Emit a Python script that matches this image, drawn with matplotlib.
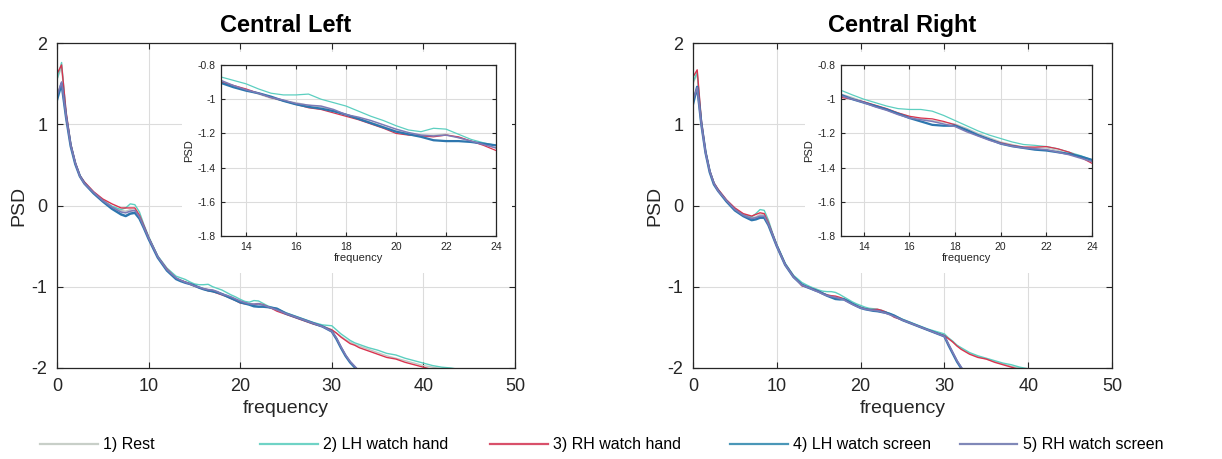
import numpy as np
import matplotlib
matplotlib.use('Agg')
import matplotlib.pyplot as plt
from matplotlib.patches import Rectangle
from matplotlib.lines import Line2D

plt.rcParams['font.family'] = ['Liberation Sans', 'DejaVu Sans']
plt.rcParams['axes.unicode_minus'] = False

# frequency grid shared by all curves (Hz)
freq = [0, 0.5, 1, 1.5, 2, 2.5, 3, 4, 5, 6, 7, 7.5, 8, 8.5, 9, 9.5, 10, 11, 12,
        13, 13.5, 14, 14.5, 15, 15.5, 16, 16.5, 17, 17.5, 18, 18.5, 19, 19.5,
        20, 20.5, 21, 21.5, 22, 22.5, 23, 23.5, 24,
        25, 26, 27, 28, 29, 30, 30.5, 31, 31.5, 32, 32.5, 33,
        34, 35, 36, 37, 38, 39, 40, 41, 42, 43, 44]

labels = ['1) Rest', '2) LH watch hand', '3) RH watch hand',
          '4) LH watch screen', '5) RH watch screen']

# ---- Central Left ----
left_rest = [1.55, 1.70, 1.10, 0.75, 0.52, 0.37, 0.28, 0.16, 0.07, -0.01, -0.06, -0.07, -0.05, -0.06, -0.14, -0.27, -0.40, -0.63, -0.79,
             -0.895, -0.92, -0.945, -0.97, -0.995, -1.01, -1.02, -1.035, -1.045, -1.065, -1.09, -1.11, -1.135, -1.16,
             -1.185, -1.20, -1.21, -1.21, -1.205, -1.225, -1.245, -1.265, -1.285,
             -1.33, -1.37, -1.41, -1.45, -1.48, -1.53, -1.57, -1.61, -1.65, -1.68, -1.71, -1.73,
             -1.77, -1.81, -1.85, -1.88, -1.91, -1.94, -1.97, -1.99, -2.01, -2.03, -2.05]
left_lh_hand = [1.55, 1.76, 1.12, 0.76, 0.52, 0.36, 0.28, 0.16, 0.06, -0.01, -0.05, -0.03, 0.02, 0.01, -0.08, -0.24, -0.38, -0.62, -0.77,
                -0.87, -0.89, -0.91, -0.94, -0.965, -0.975, -0.975, -0.97, -1.00, -1.02, -1.04, -1.07, -1.10, -1.125,
                -1.155, -1.18, -1.19, -1.17, -1.175, -1.205, -1.235, -1.255, -1.27,
                -1.32, -1.36, -1.40, -1.44, -1.47, -1.48, -1.53, -1.58, -1.62, -1.66, -1.69, -1.71,
                -1.75, -1.78, -1.82, -1.84, -1.88, -1.91, -1.94, -1.97, -1.99, -2.00, -2.02]
left_rh_hand = [1.62, 1.73, 1.15, 0.76, 0.53, 0.37, 0.29, 0.17, 0.08, 0.02, -0.03, -0.03, -0.03, -0.03, -0.12, -0.25, -0.39, -0.63, -0.78,
                -0.90, -0.92, -0.94, -0.965, -0.99, -1.01, -1.03, -1.05, -1.06, -1.08, -1.10, -1.12, -1.145, -1.17,
                -1.20, -1.21, -1.215, -1.22, -1.21, -1.22, -1.245, -1.27, -1.30,
                -1.34, -1.38, -1.42, -1.46, -1.49, -1.53, -1.57, -1.62, -1.66, -1.70, -1.72, -1.75,
                -1.79, -1.83, -1.87, -1.89, -1.93, -1.96, -1.99, -2.02, -2.04, -2.06, -2.08]
left_lh_screen = [1.30, 1.50, 1.08, 0.73, 0.51, 0.36, 0.27, 0.15, 0.05, -0.04, -0.11, -0.13, -0.10, -0.09, -0.16, -0.28, -0.41, -0.64, -0.80,
                  -0.905, -0.93, -0.95, -0.965, -0.985, -1.01, -1.03, -1.045, -1.055, -1.07, -1.09, -1.115, -1.14, -1.165,
                  -1.19, -1.205, -1.22, -1.24, -1.245, -1.245, -1.25, -1.26, -1.27,
                  -1.33, -1.37, -1.41, -1.45, -1.49, -1.55, -1.64, -1.75, -1.85, -1.93, -1.99, -2.05,
                  -2.15, -2.20, -2.25, -2.30, -2.35, -2.40, -2.45, -2.50, -2.55, -2.60, -2.65]
left_rh_screen = [1.35, 1.52, 1.09, 0.74, 0.52, 0.36, 0.27, 0.16, 0.06, -0.02, -0.08, -0.09, -0.07, -0.06, -0.14, -0.27, -0.40, -0.63, -0.79,
                  -0.89, -0.92, -0.945, -0.965, -0.99, -1.005, -1.025, -1.035, -1.04, -1.06, -1.09, -1.105, -1.125, -1.15,
                  -1.175, -1.195, -1.21, -1.215, -1.21, -1.225, -1.245, -1.265, -1.285,
                  -1.33, -1.37, -1.41, -1.45, -1.49, -1.55, -1.63, -1.74, -1.84, -1.92, -1.98, -2.04,
                  -2.14, -2.20, -2.25, -2.30, -2.35, -2.40, -2.45, -2.50, -2.55, -2.60, -2.65]

# ---- Central Right ----
right_rest = [1.50, 1.62, 1.02, 0.66, 0.42, 0.27, 0.19, 0.06, -0.04, -0.11, -0.15, -0.14, -0.11, -0.11, -0.22, -0.36, -0.49, -0.72, -0.87,
              -0.97, -0.99, -1.015, -1.04, -1.06, -1.08, -1.10, -1.115, -1.125, -1.135, -1.145, -1.17, -1.20, -1.225,
              -1.25, -1.265, -1.28, -1.283, -1.285, -1.30, -1.32, -1.34, -1.36,
              -1.40, -1.44, -1.49, -1.53, -1.56, -1.60, -1.64, -1.68, -1.72, -1.76, -1.79, -1.82,
              -1.86, -1.89, -1.92, -1.95, -1.98, -2.00, -2.03, -2.05, -2.07, -2.09, -2.11]
right_lh_hand = [1.52, 1.64, 1.03, 0.67, 0.43, 0.28, 0.19, 0.06, -0.04, -0.11, -0.14, -0.10, -0.05, -0.06, -0.18, -0.34, -0.48, -0.71, -0.86,
                 -0.948, -0.975, -1.00, -1.02, -1.04, -1.055, -1.06, -1.06, -1.07, -1.095, -1.125, -1.155, -1.185, -1.21,
                 -1.23, -1.25, -1.265, -1.27, -1.277, -1.29, -1.31, -1.33, -1.355,
                 -1.40, -1.44, -1.48, -1.52, -1.55, -1.58, -1.63, -1.67, -1.72, -1.75, -1.78, -1.81,
                 -1.85, -1.88, -1.91, -1.94, -1.96, -1.99, -2.01, -2.03, -2.05, -2.07, -2.09]
right_rh_hand = [1.58, 1.67, 1.05, 0.67, 0.43, 0.28, 0.20, 0.07, -0.03, -0.10, -0.13, -0.11, -0.09, -0.10, -0.21, -0.35, -0.49, -0.72, -0.87,
                 -0.99, -1.00, -1.015, -1.035, -1.055, -1.08, -1.10, -1.11, -1.115, -1.13, -1.15, -1.18, -1.21, -1.235,
                 -1.255, -1.27, -1.28, -1.28, -1.277, -1.29, -1.31, -1.34, -1.375,
                 -1.41, -1.45, -1.49, -1.53, -1.57, -1.60, -1.64, -1.68, -1.73, -1.77, -1.80, -1.83,
                 -1.87, -1.89, -1.93, -1.96, -1.99, -2.02, -2.04, -2.06, -2.08, -2.10, -2.12]
right_lh_screen = [1.25, 1.46, 1.00, 0.65, 0.41, 0.26, 0.18, 0.05, -0.06, -0.13, -0.18, -0.17, -0.15, -0.15, -0.24, -0.37, -0.50, -0.73, -0.88,
                   -0.975, -1.00, -1.02, -1.04, -1.06, -1.085, -1.11, -1.13, -1.15, -1.155, -1.155, -1.18, -1.21, -1.235,
                   -1.26, -1.275, -1.285, -1.295, -1.30, -1.31, -1.32, -1.335, -1.355,
                   -1.41, -1.45, -1.49, -1.53, -1.57, -1.61, -1.72, -1.82, -1.92, -2.00, -2.08, -2.14,
                   -2.22, -2.28, -2.33, -2.38, -2.43, -2.48, -2.53, -2.58, -2.63, -2.68, -2.73]
right_rh_screen = [1.30, 1.45, 1.00, 0.65, 0.42, 0.27, 0.18, 0.06, -0.05, -0.12, -0.16, -0.15, -0.13, -0.13, -0.23, -0.36, -0.50, -0.73, -0.88,
                   -0.98, -1.00, -1.02, -1.045, -1.065, -1.09, -1.11, -1.12, -1.13, -1.145, -1.16, -1.19, -1.215, -1.24,
                   -1.26, -1.275, -1.285, -1.29, -1.295, -1.31, -1.325, -1.345, -1.365,
                   -1.41, -1.45, -1.49, -1.53, -1.57, -1.61, -1.71, -1.81, -1.91, -1.99, -2.07, -2.13,
                   -2.21, -2.27, -2.32, -2.37, -2.42, -2.47, -2.52, -2.57, -2.62, -2.67, -2.72]

left_series = [left_rest, left_lh_hand, left_rh_hand, left_lh_screen, left_rh_screen]
right_series = [right_rest, right_lh_hand, right_rh_hand, right_lh_screen, right_rh_screen]

colors = ['#c2c6c3', '#5ccfc0', '#d9344f', '#2d76ae', '#7c7ab6']
widths = [1.0, 1.0, 1.0, 1.8, 1.2]
legend_colors = ['#c8cfc8', '#6fd3c6', '#d9506a', '#4a97b8', '#8088b8']

W, H = 1222, 459
fig = plt.figure(figsize=(W / 100, H / 100), dpi=100)

dark = '#262626'


def style_axes(ax, fs):
    ax.grid(True, color='#dcdcdc', linewidth=0.8)
    ax.set_axisbelow(True)
    ax.tick_params(direction='in', top=True, right=True, labelsize=fs,
                   colors=dark, length=4)
    for s in ax.spines.values():
        s.set_color(dark)
        s.set_linewidth(0.9)


def draw_panel(main_rect, inset_rect, cover, series, title):
    ax = fig.add_axes(main_rect)
    for ys, c, lw in zip(series, colors, widths):
        ax.plot(freq, ys, color=c, linewidth=lw)
    ax.set_xlim(0, 50)
    ax.set_ylim(-2, 2)
    ax.set_xticks([0, 10, 20, 30, 40, 50])
    ax.set_yticks([-2, -1, 0, 1, 2])
    style_axes(ax, 13)
    ax.tick_params(axis='both', pad=7)
    ax.set_xlabel('frequency', fontsize=14, color=dark, labelpad=4)
    ax.set_ylabel('PSD', fontsize=14, color=dark, labelpad=3)
    ax.set_title(title, fontsize=17, fontweight='bold', pad=8)
    # white area behind the zoomed inset
    ax.add_patch(Rectangle((cover[0], cover[1]), cover[2], cover[3],
                           transform=ax.transAxes, facecolor='white',
                           edgecolor='none', zorder=1))

    ins = fig.add_axes(inset_rect)
    ins.set_zorder(3)
    for ys, c, lw in zip(series, colors, widths):
        ins.plot(freq, ys, color=c, linewidth=lw * 0.9)
    ins.set_xlim(13, 24)
    ins.set_ylim(-1.8, -0.8)
    ins.set_xticks([14, 16, 18, 20, 22, 24])
    ins.set_yticks([-1.8, -1.6, -1.4, -1.2, -1.0, -0.8])
    ins.set_yticklabels(['-1.8', '-1.6', '-1.4', '-1.2', '-1', '-0.8'])
    style_axes(ins, 7.5)
    ins.tick_params(length=3, pad=4)
    ins.set_xlabel('frequency', fontsize=8, color=dark, labelpad=1)
    ins.set_ylabel('PSD', fontsize=8, color=dark, labelpad=2)
    return ax


ax_l = draw_panel([57 / W, 1 - 368 / H, 458 / W, 325 / H],
                  [221 / W, 1 - 236 / H, 275 / W, 171 / H],
                  (0.273, 0.292, 0.72, 0.68),
                  left_series, 'Central Left')
ax_r = draw_panel([693 / W, 1 - 368 / H, 419 / W, 325 / H],
                  [841 / W, 1 - 236 / H, 251 / W, 171 / H],
                  (0.267, 0.292, 0.723, 0.68),
                  right_series, 'Central Right')

# legend entries spread along the bottom
leg_x = [40, 260, 490, 730, 960]
for x, lab, c in zip(leg_x, labels, legend_colors):
    h = Line2D([], [], color=c, linewidth=1.6)
    fig.legend([h], [lab], loc='center left', bbox_to_anchor=(x / W, 1 - 445 / H),
               frameon=False, fontsize=11.5, handlelength=3.6, handletextpad=0.35,
               borderpad=0, borderaxespad=0)

fig.savefig('out.png', dpi=100, facecolor='white')
